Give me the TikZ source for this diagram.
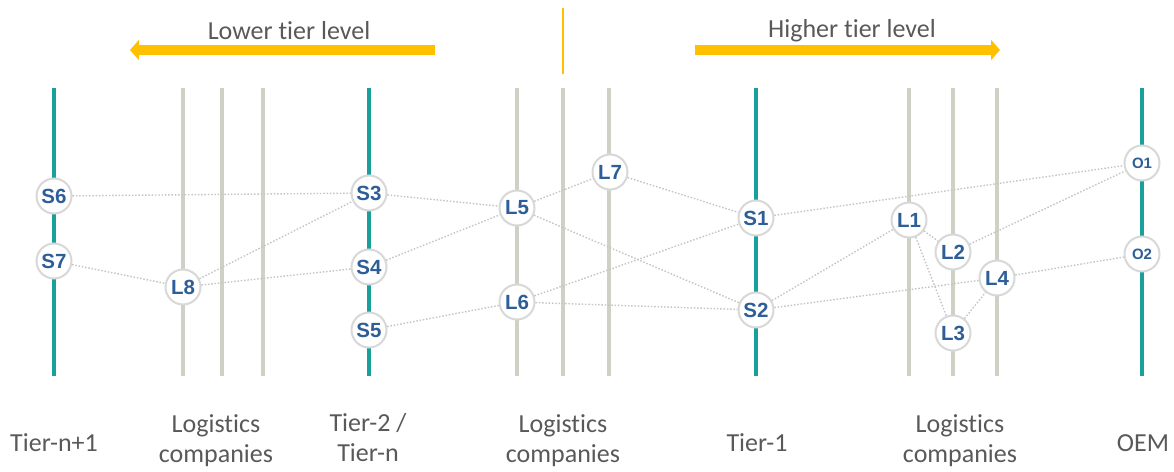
\documentclass[tikz,border=0pt]{standalone}
\usepackage{fontspec}
\setmainfont{Carlito}[Ligatures=NoCommon]
\newfontfamily\nodefont{Liberation Sans}[BoldFont={Liberation Sans Bold}]
\usetikzlibrary{arrows.meta}
\definecolor{tealc}{RGB}{25,160,155}
\definecolor{grayl}{RGB}{208,208,198}
\definecolor{nodeb}{RGB}{216,216,216}
\definecolor{nodet}{RGB}{46,94,152}
\definecolor{txt}{RGB}{89,89,89}
\definecolor{gold}{RGB}{255,192,0}
\definecolor{edgec}{RGB}{196,196,196}
\newcommand{\ndfont}{\fontsize{20.5}{21}\nodefont\bfseries}
\newcommand{\ndofont}{\fontsize{15}{15}\nodefont\bfseries}
\tikzset{
  tierline/.style={tealc, line width=4pt},
  logline/.style={grayl, line width=4pt},
  nd/.style={circle, draw=nodeb, line width=2pt, fill=white, minimum size=35pt, inner sep=0pt, text=nodet, font=\ndfont},
  ndo/.style={nd, font=\ndofont},
  lnk/.style={edgec, line width=1.4pt, dash pattern=on 1.5pt off 1.8pt},
  lbl/.style={text=txt, align=center, inner sep=1pt, font=\fontsize{26}{30}\selectfont},
  big/.style={gold, line width=10pt, -{Triangle[length=9pt,width=20pt]}}
}
\begin{document}
\begin{tikzpicture}[x=1pt,y=-1pt]
\useasboundingbox (0,0) rectangle (1174,471);
% top
\node[lbl] (lower) at (289,31) {Lower tier level};
\node[lbl] (higher) at (852,31) {Higher tier level};
\coordinate (la) at (435,50); \coordinate (lb) at (130,50);
\coordinate (ra) at (695,50); \coordinate (rb) at (1000,50);
\draw[big] (la) -- (lb);
\draw[big] (ra) -- (rb);
\coordinate (sa) at (563,8); \coordinate (sb) at (563,74);
\draw[gold, line width=1.5pt] (sa) -- (sb);
% vertical lines
\foreach \x in {54,369,756,1142} {\draw[tierline] (\x,88) -- (\x,376);}
\foreach \x in {183,222,263,517,563,609,909,953,997} {\draw[logline] (\x,88) -- (\x,376);}
% nodes
\node[nd] (S6) at (54,196) {S6};
\node[nd] (S7) at (54,261) {S7};
\node[nd] (L8) at (183,287) {L8};
\node[nd] (S3) at (369,193) {S3};
\node[nd] (S4) at (369,267) {S4};
\node[nd] (S5) at (369,330) {S5};
\node[nd] (L5) at (517,208) {L5};
\node[nd] (L6) at (517,302) {L6};
\node[nd] (L7) at (610,172) {L7};
\node[nd] (S1) at (756,218) {S1};
\node[nd] (S2) at (756,310) {S2};
\node[nd] (L1) at (909,220) {L1};
\node[nd] (L2) at (953,252) {L2};
\node[nd] (L3) at (953,333) {L3};
\node[nd] (L4) at (997,278) {L4};
\node[ndo] (O1) at (1142,163) {O1};
\node[ndo] (O2) at (1142,254) {O2};
% links
\draw[lnk] (S6) -- (S3);
\draw[lnk] (S7) -- (L8);
\draw[lnk] (L8) -- (S3);
\draw[lnk] (L8) -- (S4);
\draw[lnk] (S3) -- (L5);
\draw[lnk] (S4) -- (L5);
\draw[lnk] (S5) -- (L6);
\draw[lnk] (L5) -- (L7);
\draw[lnk] (L5) -- (S2);
\draw[lnk] (L7) -- (S1);
\draw[lnk] (L6) -- (S1);
\draw[lnk] (L6) -- (S2);
\draw[lnk] (S1) -- (O1);
\draw[lnk] (S2) -- (L1);
\draw[lnk] (S2) -- (L4);
\draw[lnk] (L1) -- (L2);
\draw[lnk] (L1) -- (L3);
\draw[lnk] (L3) -- (L4);
\draw[lnk] (L2) -- (O1);
\draw[lnk] (L4) -- (O2);
% bottom labels
\node[lbl] (t1) at (54,443) {Tier-n+1};
\node[lbl] (t2) at (216,441) {Logistics\\companies};
\node[lbl] (t3) at (368,438) {Tier-2 /\\Tier-n};
\node[lbl] (t4) at (563,441) {Logistics\\companies};
\node[lbl] (t5) at (757,443) {Tier-1};
\node[lbl] (t6) at (960,441) {Logistics\\companies};
\node[lbl] (t7) at (1143,443) {OEM};
\end{tikzpicture}
\end{document}
